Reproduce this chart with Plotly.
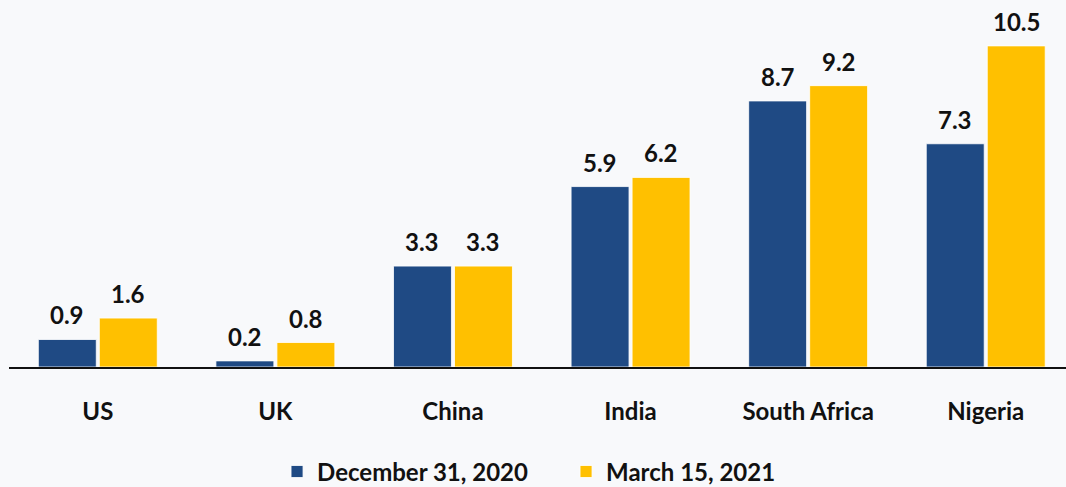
import plotly.graph_objects as go

countries = ["US", "UK", "China", "India", "South Africa", "Nigeria"]
dec_2020 = [0.9, 0.2, 3.3, 5.9, 8.7, 7.3]
mar_2021 = [1.6, 0.8, 3.3, 6.2, 9.2, 10.5]

BLUE = "#1F4A84"
GOLD = "#FFC000"
BG = "#F8F9FB"
FONT = "Lato"
FS = 24

fig = go.Figure()
fig.add_trace(go.Bar(x=countries, y=dec_2020, name="December 31, 2020",
                     marker=dict(color=BLUE, line=dict(color="white", width=0.8))))
fig.add_trace(go.Bar(x=countries, y=mar_2021, name="March 15, 2021",
                     marker=dict(color=GOLD, line=dict(color="white", width=0.8))))

# value labels above each bar
for vals, shift in ((dec_2020, -30.5), (mar_2021, 30.5)):
    for c, v in zip(countries, vals):
        fig.add_annotation(x=c, y=v, text=f"{v:.1f}", showarrow=False,
                           xshift=shift, yshift=9, yanchor="bottom", borderpad=0,
                           font=dict(family=FONT, size=FS, color="#111111", weight="bold"))

fig.update_layout(
    width=1066, height=487,
    margin=dict(l=9, r=0, t=15, b=120, autoexpand=False),
    paper_bgcolor=BG,
    plot_bgcolor=BG,
    barmode="group",
    bargap=0.313,
    bargroupgap=0.05,
    font=dict(family=FONT, size=FS, color="#111111", weight="bold"),
    showlegend=True,
    legend=dict(orientation="h", xref="container", x=0.531, xanchor="center",
                yref="container", y=0.031, yanchor="middle",
                entrywidth=244, font=dict(size=FS, weight="bold"),
                bgcolor="rgba(0,0,0,0)"),
)
fig.update_xaxes(range=[-0.5, 5.452], showgrid=False, showline=True,
                 linecolor="#111111", linewidth=1.5, ticks="",
                 ticklabelstandoff=22, tickfont=dict(size=FS, weight="bold"))
fig.update_yaxes(range=[0, 11.51], visible=False, showgrid=False, zeroline=False)

fig.write_html("out.html", config={"displayModeBar": False},
               post_script=f"document.body.style.margin='0';document.body.style.background='{BG}';")
